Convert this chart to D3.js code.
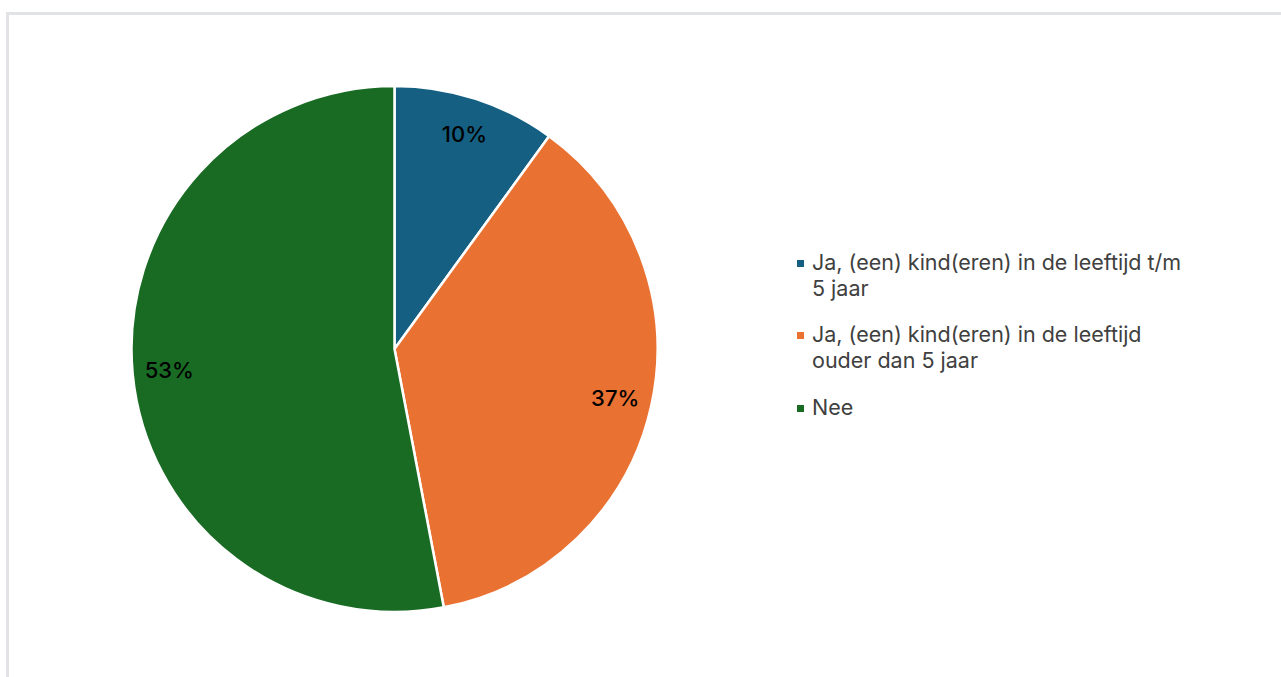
<!DOCTYPE html>
<html><head><meta charset="utf-8">
<script src="https://cdn.jsdelivr.net/npm/d3@7"></script>
<style>
html,body{margin:0;padding:0;background:#fff;}
svg{display:block;}
</style></head>
<body>
<svg id="chart" width="1281" height="677"></svg>
<script>
const categories = [
  "Ja, (een) kind(eren) in de leeftijd t/m 5 jaar",
  "Ja, (een) kind(eren) in de leeftijd ouder dan 5 jaar",
  "Nee"
];
const legendLines = [
  ["Ja, (een) kind(eren) in de leeftijd t/m", "5 jaar"],
  ["Ja, (een) kind(eren) in de leeftijd", "ouder dan 5 jaar"],
  ["Nee"]
];
const values = [10, 37, 53];
const labels = ["10%", "37%", "53%"];
const colors = ["#156082", "#E97132", "#196B24"];

const svg = d3.select("#chart");
const font = "Inter, 'Open Sans', sans-serif";

// frame
svg.append("rect").attr("x", 7.5).attr("y", 13.5).attr("width", 1290).attr("height", 700)
  .attr("fill", "none").attr("stroke", "#e1e3e6").attr("stroke-width", 3);

const cx = 394.5, cy = 349, R = 263;
const g = svg.append("g").attr("transform", `translate(${cx},${cy})`);
const pie = d3.pie().sort(null).value(d => d)(values);
const arc = d3.arc().innerRadius(0).outerRadius(R);
const labelArc = d3.arc().innerRadius(R * 0.86).outerRadius(R * 0.86);

g.selectAll("path").data(pie).join("path")
  .attr("d", arc)
  .attr("fill", (d, i) => colors[i])
  .attr("stroke", "#fff").attr("stroke-width", 2.5).attr("stroke-linejoin", "round");

g.selectAll("text.lbl").data(pie).join("text")
  .attr("class", "lbl")
  .attr("transform", d => `translate(${labelArc.centroid(d)})`)
  .attr("text-anchor", "middle").attr("dy", "0.36em")
  .attr("font-family", font).attr("font-size", 22).attr("font-weight", 500).attr("fill", "#000")
  .text((d, i) => labels[i]);

// legend
const lx = 797, lineH = 25.5;
const baseY = [270, 342, 415];
const lg = svg.append("g");
legendLines.forEach((lines, i) => {
  lg.append("rect").attr("x", lx).attr("y", baseY[i] - 10).attr("width", 7).attr("height", 7)
    .attr("fill", colors[i]);
  const t = lg.append("text")
    .attr("font-family", font).attr("font-size", 21.5).attr("fill", "#404040");
  lines.forEach((ln, j) => {
    t.append("tspan").attr("x", lx + 15).attr("y", baseY[i] + j * lineH).text(ln);
  });
});
</script>
</body></html>
